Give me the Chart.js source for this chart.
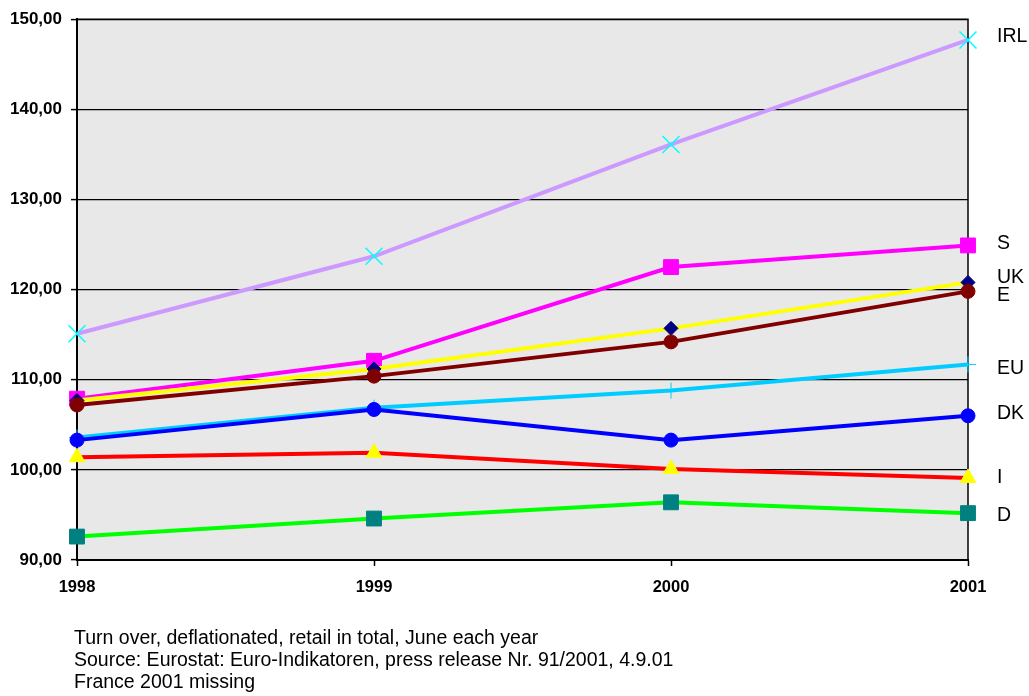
<!DOCTYPE html>
<html>
<head>
<meta charset="utf-8">
<script src="https://cdn.jsdelivr.net/npm/chart.js@4/dist/chart.umd.min.js"></script>
<style>
  body { margin: 0; background: #fff; }
  #wrap { position: relative; width: 1029px; height: 696px; }
  #note {
    position: absolute; left: 74px; top: 626px;
    font: 19.5px "Liberation Sans", Arial, sans-serif;
    line-height: 22px; color: #000;
  }
</style>
</head>
<body>
<div id="wrap">
  <canvas id="retailChart" width="1029" height="696"></canvas>
  <div id="note">
    Turn over, deflationated, retail in total, June each year<br>
    Source: Eurostat: Euro-Indikatoren, press release Nr. 91/2001, 4.9.01<br>
    France 2001 missing
  </div>
</div>
<script>
// values
const years = ['1998', '1999', '2000', '2001'];
const yTicks = [90, 100, 110, 120, 130, 140, 150];

const irl = [115.1, 123.7, 136.1, 147.7];
const swe = [107.9, 112.1, 122.5, 124.9];
const uk  = [107.7, 111.2, 115.7, 120.8];
const esp = [107.2, 110.4, 114.2, 119.8];
const eu  = [103.6, 106.9, 108.8, 111.7];
const dk  = [103.3, 106.7, 103.3, 106.0];
const ita = [101.4, 101.9, 100.1,  99.1];
const ger = [ 92.6,  94.6,  96.4,  95.2];

const FONT = '"Liberation Sans", Arial, sans-serif';

// little vertical shifts for the labels at the right so they don't collide
const labelNudge = { IRL: -3, S: -2, UK: -5, E: 4, EU: 4, DK: -2, I: 0, D: 2 };

const plotBackground = {
    id: 'plotBackground',
    beforeDraw(chart) {
        const { ctx, chartArea: a } = chart;
        ctx.save();
        ctx.fillStyle = '#e8e8e8';
        ctx.fillRect(a.left, a.top, a.right - a.left, a.bottom - a.top);
        ctx.restore();
    },
    beforeDatasetsDraw(chart) {
        const { ctx, chartArea: a } = chart;
        ctx.save();
        ctx.strokeStyle = '#000';
        ctx.lineWidth = 1.5;
        ctx.beginPath();
        ctx.moveTo(a.left, a.top);
        ctx.lineTo(a.right, a.top);
        ctx.lineTo(a.right, a.bottom);
        ctx.stroke();
        ctx.restore();
    }
};

const endLabels = {
    id: 'endLabels',
    afterDraw(chart) {
        const { ctx, chartArea: a } = chart;
        const yScale = chart.scales.y;
        ctx.save();
        ctx.fillStyle = '#000';
        ctx.font = '19.5px ' + FONT;
        ctx.textBaseline = 'middle';
        ctx.textAlign = 'left';
        chart.data.datasets.forEach(ds => {
            const last = ds.data[ds.data.length - 1];
            const y = yScale.getPixelForValue(last) + (labelNudge[ds.label] || 0);
            ctx.fillText(ds.label, a.right + 29, y);
        });
        ctx.restore();
    }
};

function series(label, data, line, marker, style, radius, order, extra) {
    return Object.assign({
        label: label,
        data: data,
        borderColor: line,
        borderWidth: 4,
        pointStyle: style,
        pointRadius: radius,
        pointBackgroundColor: marker,
        pointBorderColor: marker,
        pointBorderWidth: 1,
        tension: 0,
        clip: false,
        order: order
    }, extra || {});
}

new Chart(document.getElementById('retailChart'), {
    type: 'line',
    data: {
        labels: years,
        datasets: [
            series('IRL', irl, '#cc99ff', '#00ffff', 'crossRot', 12, 8, { pointBorderWidth: 1.5 }),
            series('S',   swe, '#ff00ff', '#ff00ff', 'rect', 10.5, 7),
            series('UK',  uk,  '#ffff00', '#000080', 'rectRot', 7, 6),
            series('E',   esp, '#800000', '#800000', 'circle', 7, 5),
            series('EU',  eu,  '#00ccff', '#00ccff', 'cross', 8, 4),
            series('DK',  dk,  '#0000ff', '#0000ff', 'circle', 7, 3),
            series('I',   ita, '#ff0000', '#ffff00', 'triangle', 9, 2),
            series('D',   ger, '#00ff00', '#008080', 'rect', 10.5, 1)
        ]
    },
    options: {
        responsive: false,
        animation: false,
        layout: {
            padding: { top: 15, right: 61, bottom: 0, left: 0 }
        },
        scales: {
            x: {
                offset: false,
                grid: {
                    drawOnChartArea: false,
                    color: '#000',
                    tickLength: 6,
                    tickWidth: 1.5
                },
                border: { color: '#000', width: 2 },
                ticks: {
                    color: '#000',
                    padding: 12,
                    maxRotation: 0,
                    font: { family: FONT, size: 16.5, weight: 'bold' }
                },
                afterFit: scale => { scale.height = 136; }
            },
            y: {
                min: 90,
                max: 150,
                afterBuildTicks: scale => {
                    scale.ticks = yTicks.map(v => ({ value: v }));
                },
                grid: {
                    color: '#000',
                    lineWidth: 1.2,
                    tickLength: 6,
                    tickWidth: 1.5
                },
                border: { color: '#000', width: 2 },
                ticks: {
                    color: '#000',
                    padding: 9,
                    font: { family: FONT, size: 17, weight: 'bold' },
                    callback: v => v.toFixed(2).replace('.', ',')
                },
                afterFit: scale => { scale.width = 77; }
            }
        },
        plugins: {
            legend: { display: false },
            tooltip: { enabled: false }
        }
    },
    plugins: [plotBackground, endLabels]
});
</script>
</body>
</html>
